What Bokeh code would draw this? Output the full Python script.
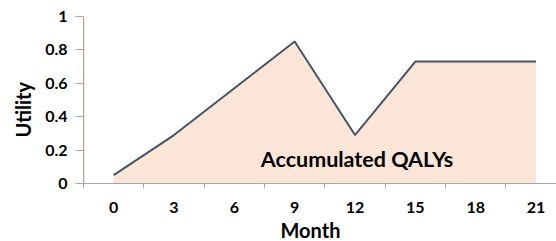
import math
from bokeh.plotting import figure
from bokeh.models import Range1d, FixedTicker, Label, BoxAnnotation, Title
from bokeh.embed import file_html
from bokeh.resources import INLINE

# ---- data ----
months = [0, 3, 6, 9, 12, 15, 18, 21]
utility = [0.05, 0.29, 0.57, 0.85, 0.29, 0.73, 0.73, 0.73]
y_ticks = [0, 0.2, 0.4, 0.6, 0.8, 1]
y_tick_labels = ["0", "0.2", "0.4", "0.6", "0.8", "1"]
x_tick_labels = ["0", "3", "6", "9", "12", "15", "18", "21"]
area_label = "Accumulated QALYs"
x_title = "Month"
y_title = "Utility"

FONT = "Lato"
FILL = "#fbe5d6"
LINE = "#44546a"
AXIS = "#a6a6a6"

step = months[1] - months[0]
boundaries = [m - step / 2 for m in months] + [months[-1] + step / 2]

p = figure(width=556, height=241, output_backend="svg", toolbar_location=None,
           x_range=Range1d(months[0] - step / 2, 22.02), y_range=Range1d(0, 1),
           min_border_left=83, min_border_right=0, min_border_top=16,
           min_border_bottom=58)
p.outline_line_color = None
p.grid.visible = False
p.background_fill_color = "white"
p.border_fill_color = "white"

p.varea(x=months, y1=[0] * len(months), y2=utility, fill_color=FILL)
p.line(months, utility, line_color=LINE, line_width=2)

p.add_layout(BoxAnnotation(left=months[0] - step / 2, right=months[0] - step / 2 + 0.07,
                           bottom=0, top=1, fill_color=FILL, fill_alpha=1,
                           line_color=None, level="underlay"))

# x axis
xa = p.xaxis[0]
xa.ticker = FixedTicker(ticks=months, minor_ticks=boundaries)
xa.major_label_overrides = dict(zip(months, x_tick_labels))
xa.axis_line_color = AXIS
xa.major_tick_line_color = None
xa.major_tick_out = 5
xa.major_tick_in = 0
xa.minor_tick_line_color = AXIS
xa.minor_tick_out = 5
xa.minor_tick_in = 0
xa.major_label_standoff = 13
xa.major_label_text_font = FONT
xa.major_label_text_font_style = "bold"
xa.major_label_text_font_size = "16px"
xa.major_label_text_color = "black"

# y axis
ya = p.yaxis[0]
ya.ticker = FixedTicker(ticks=y_ticks, minor_ticks=[])
ya.major_label_overrides = dict(zip(y_ticks, y_tick_labels))
ya.axis_line_color = AXIS
ya.major_tick_line_color = AXIS
ya.major_tick_out = 8
ya.major_tick_in = 0
ya.minor_tick_line_color = None
ya.major_label_standoff = 8
ya.major_label_text_font = FONT
ya.major_label_text_font_style = "bold"
ya.major_label_text_font_size = "16px"
ya.major_label_text_color = "black"

# axis titles as side titles (offset along the axis)
p.add_layout(Title(text=y_title, align="left", offset=46, standoff=15,
                   text_font=FONT, text_font_style="bold", text_font_size="20px",
                   text_color="black"), "left")
p.add_layout(Title(text=x_title, align="left", offset=197, standoff=0,
                   text_font=FONT, text_font_style="bold", text_font_size="20px",
                   text_color="black"), "below")

p.add_layout(Label(x=12.1, y=0.145, text=area_label, text_font=FONT, text_font_style="bold",
                   text_font_size="21.5px", text_align="center", text_baseline="middle",
                   text_color="black"))

open("out.html", "w").write(file_html(p, INLINE))
